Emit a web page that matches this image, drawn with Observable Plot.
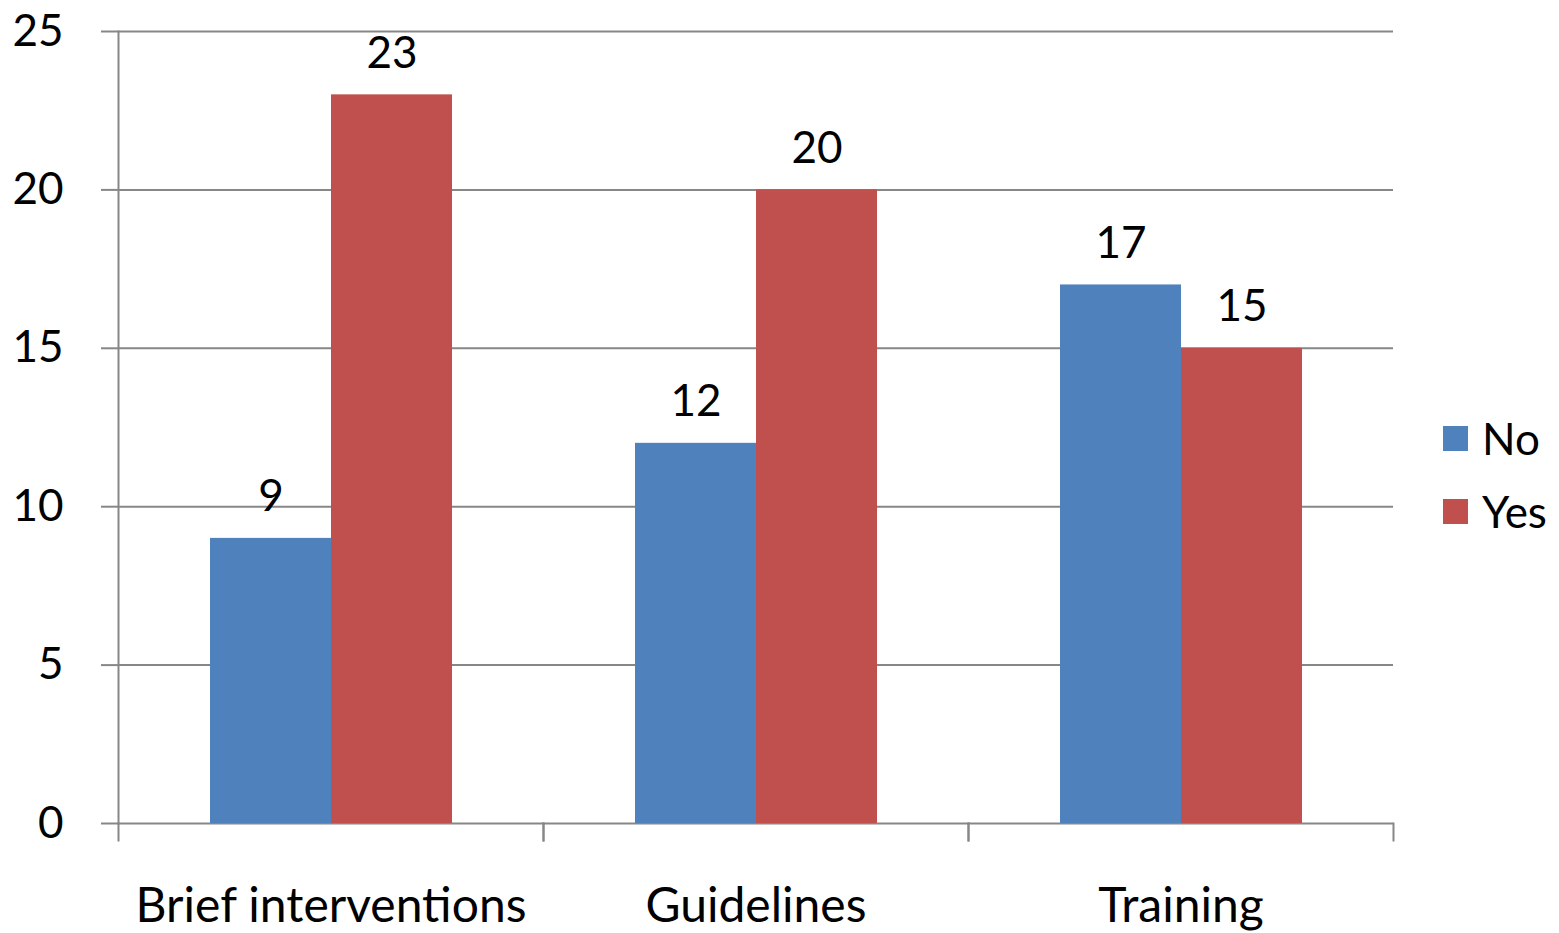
<!DOCTYPE html>
<html><head><meta charset="utf-8">
<script src="https://cdn.jsdelivr.net/npm/d3@7"></script>
<script src="https://cdn.jsdelivr.net/npm/@observablehq/plot@0.6"></script>
<style>
body{margin:0;background:#fff;font-family:Lato,sans-serif;}
#wrap{position:relative;width:1559px;height:933px;}
#wrap svg text{fill:#000;}
#wrap svg line, #wrap svg path{stroke-width:2px;}
#wrap svg g[aria-label^="fx-axis"] text{font-size:48px;}
#legend{position:absolute;left:1443px;top:416px;font-family:Lato,sans-serif;font-size:44px;color:#000;}
#legend .row{display:flex;align-items:center;height:44px;margin-bottom:29px;}
#legend .sw{width:25px;height:25px;margin-right:14px;}
</style></head><body><div id="wrap"></div>
<script>
const categories = ["Brief interventions", "Guidelines", "Training"];
const series = ["No", "Yes"];
const noValues = [9, 12, 17];
const yesValues = [23, 20, 15];
const yTicks = [0, 5, 10, 15, 20, 25];
const colors = ["#4F81BD", "#C0504D"];

const data = categories.flatMap((c, i) => [
  {category: c, series: "No", value: noValues[i]},
  {category: c, series: "Yes", value: yesValues[i]}
]);

const W = 1559, H = 933, mL = 117, mT = 31, mR = 166, mB = 110;
const plotH = H - mT - mB;

const chart = Plot.plot({
  width: W, height: H,
  marginLeft: mL, marginTop: mT, marginRight: mR, marginBottom: mB,
  style: {fontFamily: "Lato, sans-serif", fontSize: "44px", color: "#878787", background: "#fff", overflow: "visible"},
  facet: {data, x: "category", marginRight: mR},
  fx: {domain: categories, padding: 0, label: null, tickSize: 0, tickPadding: 64},
  x: {domain: series, paddingInner: 0, paddingOuter: 0.75, axis: null},
  y: {domain: [0, 25], ticks: yTicks, tickSize: 17, tickPadding: 38, label: null, line: true},
  color: {domain: series, range: colors},
  marks: [
    Plot.ruleY(yTicks, {stroke: "currentColor", strokeWidth: 2}),
    Plot.barY(data, {x: "series", y: "value", fill: "series", inset: 0}),
    Plot.text(data, {x: "series", y: "value", text: d => String(d.value), dy: -41, fill: "#000"}),
    Plot.frame({anchor: "left", insetTop: plotH, insetBottom: -17, strokeWidth: 2}),
    Plot.frame({anchor: "right", insetTop: plotH, insetBottom: -17, strokeWidth: 2})
  ]
});
chart.querySelectorAll("text").forEach(t => { if (!t.textContent.trim()) t.remove(); });
document.getElementById("wrap").appendChild(chart);

const legend = document.createElement("div");
legend.id = "legend";
series.forEach((s, i) => {
  const row = document.createElement("div");
  row.className = "row";
  const sw = document.createElement("span");
  sw.className = "sw";
  sw.style.background = colors[i];
  const t = document.createElement("span");
  t.textContent = s;
  row.appendChild(sw); row.appendChild(t);
  legend.appendChild(row);
});
document.getElementById("wrap").appendChild(legend);
</script>
</body></html>
